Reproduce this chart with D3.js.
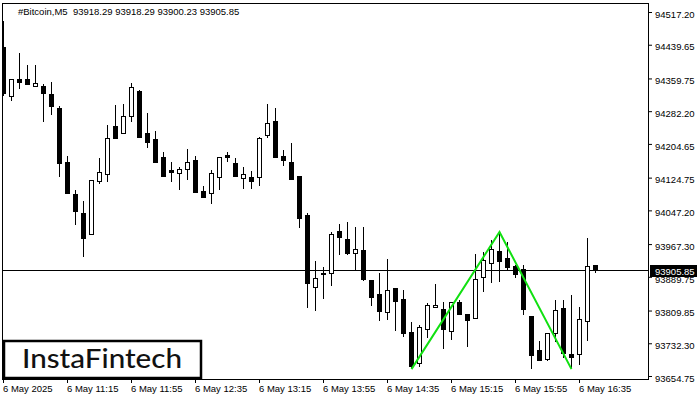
<!DOCTYPE html>
<html>
<head>
<meta charset="utf-8">
<script src="https://cdn.jsdelivr.net/npm/d3@7"></script>
<style>
html,body{margin:0;padding:0;background:#fff;}
svg{display:block;}
</style>
</head>
<body>
<svg id="chart" width="700" height="400"></svg>
<script>
const times = ["10:35","10:40","10:45","10:50","10:55","11:00","11:05","11:10","11:15","11:20","11:25","11:30","11:35","11:40","11:45","11:50","11:55","12:00","12:05","12:10","12:15","12:20","12:25","12:30","12:35","12:40","12:45","12:50","12:55","13:00","13:05","13:10","13:15","13:20","13:25","13:30","13:35","13:40","13:45","13:50","13:55","14:00","14:05","14:10","14:15","14:20","14:25","14:30","14:35","14:40","14:45","14:50","14:55","15:00","15:05","15:10","15:15","15:20","15:25","15:30","15:35","15:40","15:45","15:50","15:55","16:00","16:05","16:10","16:15","16:20","16:25","16:30","16:35","16:40","16:45"];

const open = [94435.0,94318.9,94358.5,94358.5,94341.2,94341.9,94322.9,94289.7,94161.8,94086.7,94041.0,93990.5,94117.5,94132.6,94246.4,94229.8,94271.5,94330.0,94230.5,94216.3,94173.6,94143.5,94136.4,94144.5,94166.5,94093.1,94087.6,94127.0,94178.4,94159.4,94124.6,94126.2,94125.5,94225.1,94258.9,94175.3,94161.8,94128.6,94036.2,93866.3,93899.5,93898.1,93998.3,93979.3,93945.5,93953.3,93882.2,93849.0,93805.7,93863.2,93836.5,93758.3,93686.3,93765.4,93817.5,93812.8,93760.6,93829.4,93800.9,93791.5,93888.6,93921.8,93950.9,93934.3,93914.7,93908.3,93796.2,93715.6,93695.7,93755.9,93815.2,93706.2,93706.2,93784.4,93918.29];
const high = [94495.9,94358.5,94419.3,94391.6,94391.6,94346.6,94351.3,94295.2,94176.0,94095.4,94069.4,94118.4,94172.0,94249.5,94297.6,94299.2,94349.0,94332.4,94277.2,94235.2,94184.8,94161.8,94149.2,94192.6,94176.0,94104.9,94142.8,94172.9,94184.8,94171.3,94149.9,94140.5,94220.3,94299.2,94289.7,94190.2,94206.8,94128.6,94040.2,93927.2,93913.7,93995.2,94014.9,94019.6,94007.8,94007.8,93882.2,93898.8,93932.0,93863.2,93858.5,93782.7,93775.6,93827.0,93872.7,93830.1,93829.4,93834.8,93800.9,93944.5,93948.5,93977.0,93996.6,93971.5,93918.0,93917.7,93796.2,93737.7,93755.9,93834.8,93834.8,93846.7,93817.5,93981.0,93918.29];
const low = [94320.5,94308.7,94337.8,94347.3,94341.2,94259.6,94276.2,94129.3,94089.0,94014.9,93939.8,93990.5,94112.7,94117.5,94219.4,94229.8,94259.6,94221.7,94198.0,94162.5,94129.3,94117.5,94098.5,94122.2,94091.4,94079.6,94065.4,94098.5,94164.9,94129.3,94100.9,94100.9,94108.0,94220.3,94174.4,94155.4,94122.2,94008.5,93818.9,93811.8,93840.3,93871.1,93944.5,93943.8,93905.9,93882.2,93823.0,93787.4,93790.5,93764.4,93750.2,93673.0,93678.4,93747.9,93817.5,93721.8,93743.1,93800.9,93726.5,93791.5,93856.8,93877.5,93880.5,93905.9,93890.0,93800.9,93674.4,93691.9,93693.4,93738.4,93699.1,93673.0,93682.5,93740.7,93900.23];
const close = [94324.6,94358.5,94352.1,94347.3,94348.3,94326.0,94295.2,94160.1,94089.0,94046.4,93981.7,94118.4,94137.4,94218.7,94219.4,94270.1,94338.8,94221.7,94209.9,94162.5,94129.3,94138.8,94145.2,94161.8,94091.4,94079.6,94135.0,94172.9,94174.4,94129.3,94132.6,94117.5,94217.9,94254.2,94174.4,94167.2,94122.2,94028.4,93874.4,93886.2,93895.7,93991.2,93984.8,93946.9,93954.9,93885.3,93841.2,93809.5,93857.8,93831.7,93755.9,93678.4,93770.1,93822.3,93822.3,93766.8,93829.4,93800.9,93786.7,93883.9,93928.9,93954.9,93927.9,93912.3,93896.4,93814.2,93705.2,93691.9,93755.9,93810.4,93708.5,93700.5,93789.1,93914.7,93905.85];

const yTickValues = [94517.20,94439.65,94359.75,94282.20,94204.65,94124.75,94047.20,93967.30,93889.75,93809.85,93732.30,93654.75];
const xTickTimes = ["10:35","11:15","11:55","12:35","13:15","13:55","14:35","15:15","15:55","16:35"];
const xTickLabels = ["6 May 2025","6 May 11:15","6 May 11:55","6 May 12:35","6 May 13:15","6 May 13:55","6 May 14:35","6 May 15:15","6 May 15:55","6 May 16:35"];

const patternTimes = ["14:50","15:45","16:30"];
const patternPrices = [93671, 93996, 93671];

const symbol = "#Bitcoin,M5";
const lastPrice = 93905.85;
const headerValues = ["93918.29","93918.29","93900.23","93905.85"];
const brand = "InstaFintech";

const svg = d3.select("#chart");
const FONT = "'Liberation Sans', Arial, sans-serif";

const x = d3.scalePoint().domain(times).range([3, 595]);
const y = d3.scaleLinear().domain([93654.75, 94517.20]).range([376, 12]);

const L = 2, R = 648, T = 3, B = 379;

// frame
svg.append("rect").attr("x", L + 0.5).attr("y", T + 0.5)
  .attr("width", R - L).attr("height", B - T)
  .attr("fill", "#fff").attr("stroke", "#000").attr("stroke-width", 1);

const plot = svg.append("g");
plot.append("clipPath").attr("id", "clip").append("rect")
  .attr("x", L).attr("y", T).attr("width", R - L).attr("height", B - T);
const g = plot.append("g").attr("clip-path", "url(#clip)");

// current price line
g.append("line").attr("x1", L).attr("x2", R)
  .attr("y1", Math.round(y(lastPrice)) + 0.5).attr("y2", Math.round(y(lastPrice)) + 0.5)
  .attr("stroke", "#000").attr("stroke-width", 1);

// candles
const data = times.map((t, i) => ({t, o: open[i], h: high[i], l: low[i], c: close[i]}));
const cg = g.selectAll("g.c").data(data).join("g").attr("class", "c");
cg.append("line")
  .attr("x1", d => x(d.t) + 0.5).attr("x2", d => x(d.t) + 0.5)
  .attr("y1", d => Math.round(y(d.h))).attr("y2", d => Math.round(y(d.l)) + 1)
  .attr("stroke", "#000").attr("stroke-width", 1);
cg.each(function(d) {
  const top = Math.round(y(Math.max(d.o, d.c)));
  const bot = Math.round(y(Math.min(d.o, d.c)));
  const sel = d3.select(this);
  if (d.c < d.o) {
    sel.append("rect").attr("x", x(d.t) - 2).attr("y", top)
      .attr("width", 5).attr("height", Math.max(1, bot - top + 1)).attr("fill", "#000");
  } else {
    sel.append("rect").attr("x", x(d.t) - 1.5).attr("y", top + 0.5)
      .attr("width", 4).attr("height", Math.max(0, bot - top))
      .attr("fill", "#fff").attr("stroke", "#000").attr("stroke-width", 1);
  }
});

// pattern
g.append("path")
  .datum(patternTimes.map((t, i) => [x(t) + 0.5, y(patternPrices[i])]))
  .attr("d", d3.line())
  .attr("fill", "none").attr("stroke", "#11e011").attr("stroke-width", 2);

// right axis
const yAxis = d3.axisRight(y).tickValues(yTickValues).tickSize(4).tickSizeOuter(0)
  .tickFormat(d => d.toFixed(2));
const ya = svg.append("g").attr("transform", `translate(${R},0)`).call(yAxis);
ya.select(".domain").attr("d", `M0.5,${T}V${B + 1}`).attr("stroke", "#000");
ya.selectAll(".tick line").attr("stroke", "#000");
ya.selectAll(".tick text").attr("x", 7).attr("dy", "0.55em")
  .attr("font-family", FONT).attr("font-size", "9.5px").attr("fill", "#000");

// price label
const py = Math.round(y(lastPrice));
svg.append("rect").attr("x", R + 2).attr("y", py - 5).attr("width", 47).attr("height", 12).attr("fill", "#000");
svg.append("text").attr("x", R + 7).attr("y", py + 5).text(lastPrice.toFixed(2))
  .attr("font-family", FONT).attr("font-size", "9.5px").attr("fill", "#fff");

// bottom axis
const xAxis = d3.axisBottom(x).tickValues(xTickTimes).tickSize(4).tickSizeOuter(0)
  .tickFormat(t => xTickLabels[xTickTimes.indexOf(t)]);
const xa = svg.append("g").attr("transform", `translate(0,${B})`).call(xAxis);
xa.select(".domain").attr("d", `M${L},0.5H${R}`).attr("stroke", "#000");
xa.selectAll(".tick line").attr("stroke", "#000");
xa.selectAll(".tick text").attr("text-anchor", "start").attr("x", -0.5).attr("y", 6).attr("dy", "0.71em")
  .attr("font-family", FONT).attr("font-size", "9.5px").attr("fill", "#000");

// header
svg.append("text").attr("x", 18).attr("y", 15)
  .attr("font-family", FONT).attr("font-size", "9.5px").attr("fill", "#000")
  .attr("xml:space", "preserve")
  .text(symbol + "  " + headerValues.join(" "));

// brand box
svg.append("rect").attr("x", 4).attr("y", 341).attr("width", 197).attr("height", 37)
  .attr("fill", "#fff").attr("stroke", "#000").attr("stroke-width", 2.5);
svg.append("text").attr("x", 22).attr("y", 368)
  .attr("font-family", "Lato, 'Open Sans', sans-serif").attr("font-weight", 500)
  .attr("font-size", "27px").attr("fill", "#111")
  .attr("textLength", 160).attr("lengthAdjust", "spacingAndGlyphs")
  .text(brand);
</script>
</body>
</html>
